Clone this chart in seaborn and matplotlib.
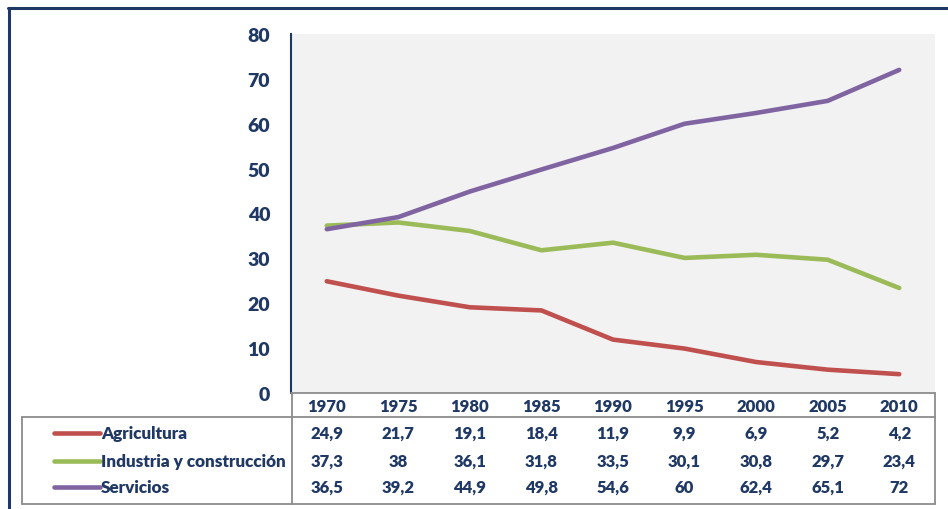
import matplotlib
matplotlib.use("Agg")
import matplotlib.pyplot as plt
import matplotlib.transforms as mtransforms
from matplotlib.lines import Line2D
import seaborn as sns
import pandas as pd

years = ["1970", "1975", "1980", "1985", "1990", "1995", "2000", "2005", "2010"]
series_names = ["Agricultura", "Industria y construcción", "Servicios"]
agricultura = [24.9, 21.7, 19.1, 18.4, 11.9, 9.9, 6.9, 5.2, 4.2]
industria = [37.3, 38, 36.1, 31.8, 33.5, 30.1, 30.8, 29.7, 23.4]
servicios = [36.5, 39.2, 44.9, 49.8, 54.6, 60, 62.4, 65.1, 72]
colors = ["#C0504D", "#9BBB59", "#8064A2"]
yticks = [0, 10, 20, 30, 40, 50, 60, 70, 80]

sns.set_theme(style="white")
plt.rcParams['font.family'] = ['Lato', 'DejaVu Sans']
NAVY = "#1F3864"
GRID = "#8C8C8C"
FW = "heavy"

W, H = 948, 510
fig = plt.figure(figsize=(W / 100, H / 100), dpi=100)
L, R, T, B = 291, 935, 35, 394
ax = fig.add_axes([L / W, 1 - B / H, (R - L) / W, (B - T) / H])
ax.set_facecolor("#F2F2F2")

rows = []
for name, vals in zip(series_names, [agricultura, industria, servicios]):
    for i, v in enumerate(vals):
        rows.append({"idx": i, "valor": v, "serie": name})
df = pd.DataFrame(rows)
sns.lineplot(data=df, x="idx", y="valor", hue="serie", palette=colors,
             linewidth=3.3, ax=ax, legend=False, solid_capstyle="round")

ax.set_xlim(-0.5, len(years) - 0.5)
ax.set_ylim(0, 80)
ax.set_yticks(yticks)
ax.set_yticklabels([str(t) for t in yticks], fontsize=14, fontweight=FW, color=NAVY)
ax.tick_params(axis="y", length=0, pad=15)
ax.set_xticks([])
ax.set_xlabel("")
ax.set_ylabel("")
for s in ["top", "right", "bottom"]:
    ax.spines[s].set_visible(False)
ax.spines["left"].set_color(NAVY)
ax.spines["left"].set_linewidth(1.5)

# figure border (top and left)
fig.add_artist(Line2D([8 / W, 1.0], [1 - 9 / H, 1 - 9 / H], color=NAVY, lw=2.2, transform=fig.transFigure))
fig.add_artist(Line2D([9 / W, 9 / W], [1 - 9 / H, 0], color=NAVY, lw=2.2, transform=fig.transFigure))

# data table
def hline(x0, x1, y):
    fig.add_artist(Line2D([x0 / W, x1 / W], [1 - y / H, 1 - y / H], color=GRID, lw=1.3, transform=fig.transFigure))

def vline(x, y0, y1):
    fig.add_artist(Line2D([x / W, x / W], [1 - y0 / H, 1 - y1 / H], color=GRID, lw=1.3, transform=fig.transFigure))

hline(L, R, B)
hline(22, R, 418)
hline(22, R, 505)
vline(L + 1, B, 505)
vline(R, B, 505)
vline(22, 418, 505)

trans = mtransforms.blended_transform_factory(ax.transData, fig.transFigure)
for i, yr in enumerate(years):
    ax.text(i, 1 - 407 / H, yr, transform=trans, ha="center", va="center",
            fontsize=12, fontweight=FW, color=NAVY, clip_on=False)

row_y = [434, 462, 488]
for name, vals, c, ry in zip(series_names, [agricultura, industria, servicios], colors, row_y):
    fig.add_artist(Line2D([54 / W, 100 / W], [1 - ry / H, 1 - ry / H], color=c, lw=3.3,
                          solid_capstyle="round", transform=fig.transFigure))
    fig.text(101 / W, 1 - ry / H, name, ha="left", va="center", fontsize=12.3,
             fontweight=FW, color=NAVY)
    for i, v in enumerate(vals):
        label = (f"{v:g}").replace(".", ",")
        ax.text(i, 1 - ry / H, label, transform=trans, ha="center", va="center",
                fontsize=12, fontweight=FW, color=NAVY, clip_on=False)

fig.savefig("out.png", dpi=100, facecolor="white")
